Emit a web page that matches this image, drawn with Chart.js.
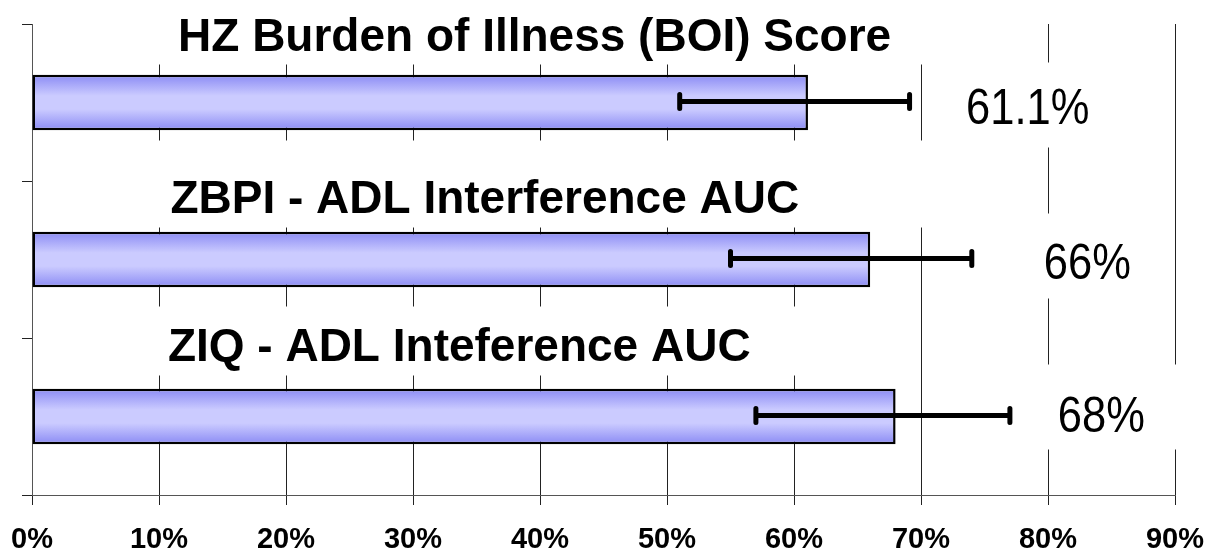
<!DOCTYPE html>
<html>
<head>
<meta charset="utf-8">
<script src="https://cdn.jsdelivr.net/npm/chart.js@4.4.0/dist/chart.umd.min.js"></script>
<style>
  html, body { margin: 0; padding: 0; background: #fff; }
  #wrap { width: 1210px; height: 554px; }
</style>
</head>
<body>
<div id="wrap"><canvas id="boiChart" width="1210" height="554"></canvas></div>
<script>
// values
const categories = ['HZ Burden of Illness (BOI) Score', 'ZBPI - ADL Interference AUC', 'ZIQ - ADL Inteference AUC'];
const reduction = [61.1, 66, 68];
const ciLow = [51.0, 55.0, 57.0];
const ciHigh = [69.1, 74.0, 77.0];
const valueLabels = ['61.1%', '66%', '68%'];
const tickLabels = ['0%', '10%', '20%', '30%', '40%', '50%', '60%', '70%', '80%', '90%'];

const FONT = "'Liberation Sans', Arial, sans-serif";

// text boxes sitting on top of the grid (x in axis %, y offsets from bar centre)
const nameBoxes = [
    { x0: 0.6, x1: 75, y0: -102, y1: -38, tx: 11.5, base: -52 },
    { x0: 0.6, x1: 75, y0: -119, y1: -32, tx: 10.9, base: -47 },
    { x0: 0.6, x1: 65, y0: -110, y1: -41, tx: 10.7, base: -56 }
];
const valueBoxes = [
    { x0: 73.2, x1: 85, y0: -40, y1: 45, tx: 78.4, base: 21 },
    { x0: 76.2, x1: 88, y0: -46, y1: 39, tx: 83.1, base: 19 },
    { x0: 77.8, x1: 91.5, y0: -52, y1: 33, tx: 84.2, base: 15 }
];

const BAR_PCT = 0.355;

function barGradient(context) {
    const chart = context.chart;
    const y = chart.scales.y;
    if (!chart.chartArea || !y) return '#c8c8ff';
    const c = y.getPixelForValue(context.dataIndex);
    const h = (y.height / categories.length) * BAR_PCT;
    const g = chart.ctx.createLinearGradient(0, c - h / 2, 0, c + h / 2);
    g.addColorStop(0, '#8a8af4');
    g.addColorStop(0.38, '#cbcbff');
    g.addColorStop(0.62, '#cbcbff');
    g.addColorStop(1, '#8a8af4');
    return g;
}

const overlayPlugin = {
    id: 'overlay',
    beforeDatasetsDraw(chart) {
        const { ctx, scales: { x, y } } = chart;
        ctx.save();
        categories.forEach((name, i) => {
            const cy = y.getPixelForValue(i);
            const nb = nameBoxes[i];
            const vb = valueBoxes[i];
            ctx.fillStyle = '#fff';
            ctx.fillRect(x.getPixelForValue(nb.x0), cy + nb.y0,
                x.getPixelForValue(nb.x1) - x.getPixelForValue(nb.x0), nb.y1 - nb.y0);
            ctx.fillRect(x.getPixelForValue(vb.x0), cy + vb.y0,
                x.getPixelForValue(vb.x1) - x.getPixelForValue(vb.x0), vb.y1 - vb.y0);

            ctx.fillStyle = '#000';
            ctx.textBaseline = 'alphabetic';
            ctx.textAlign = 'left';
            ctx.font = 'bold 46px ' + FONT;
            ctx.fillText(name, x.getPixelForValue(nb.tx), cy + nb.base);

            // the % labels are a narrow face on the slide
            ctx.save();
            ctx.translate(x.getPixelForValue(vb.tx), cy + vb.base);
            ctx.scale(0.87, 1);
            ctx.textAlign = 'center';
            ctx.font = '50px ' + FONT;
            ctx.fillText(valueLabels[i], 0, 0);
            ctx.restore();
        });
        ctx.restore();
    },
    afterDatasetsDraw(chart) {
        const { ctx, scales: { x } } = chart;
        const meta = chart.getDatasetMeta(0);
        ctx.save();
        ctx.strokeStyle = '#000';
        ctx.lineWidth = 5;
        meta.data.forEach((bar, i) => {
            const yy = bar.y - 1;
            const xl = x.getPixelForValue(ciLow[i]);
            const xh = x.getPixelForValue(ciHigh[i]);
            ctx.lineCap = 'butt';
            ctx.beginPath();
            ctx.moveTo(xl, yy);
            ctx.lineTo(xh, yy);
            ctx.stroke();
            ctx.lineCap = 'round';
            ctx.beginPath();
            ctx.moveTo(xl, yy - 7);
            ctx.lineTo(xl, yy + 7);
            ctx.moveTo(xh, yy - 7);
            ctx.lineTo(xh, yy + 7);
            ctx.stroke();
        });
        ctx.restore();
    }
};

new Chart(document.getElementById('boiChart').getContext('2d'), {
    type: 'bar',
    data: {
        labels: categories,
        datasets: [{
            data: reduction,
            backgroundColor: barGradient,
            borderColor: '#000',
            borderWidth: 2.5,
            borderSkipped: false,
            barPercentage: BAR_PCT,
            categoryPercentage: 1
        }]
    },
    options: {
        indexAxis: 'y',
        responsive: false,
        animation: false,
        layout: { padding: { left: 22, right: 35, top: 24, bottom: 0 } },
        scales: {
            x: {
                min: 0,
                max: 90,
                afterFit: s => {
                    s.height = 59;
                    s.paddingLeft = 0;
                    s.paddingRight = 0;
                },
                ticks: {
                    stepSize: 10,
                    color: '#000',
                    padding: 18,
                    maxRotation: 0,
                    font: { family: FONT, size: 29, weight: 'bold' },
                    callback: (v, i) => tickLabels[i]
                },
                grid: { color: '#222', lineWidth: 1, tickLength: 10 },
                border: { color: '#555' }
            },
            y: {
                afterFit: s => {
                    s.width = 10;
                    s.paddingTop = 0;
                    s.paddingBottom = 0;
                },
                ticks: { display: false },
                grid: { offset: true, drawOnChartArea: false, color: '#222', tickLength: 10 },
                border: { color: '#555' }
            }
        },
        plugins: {
            legend: { display: false },
            tooltip: { enabled: false }
        }
    },
    plugins: [overlayPlugin]
});
</script>
</body>
</html>
